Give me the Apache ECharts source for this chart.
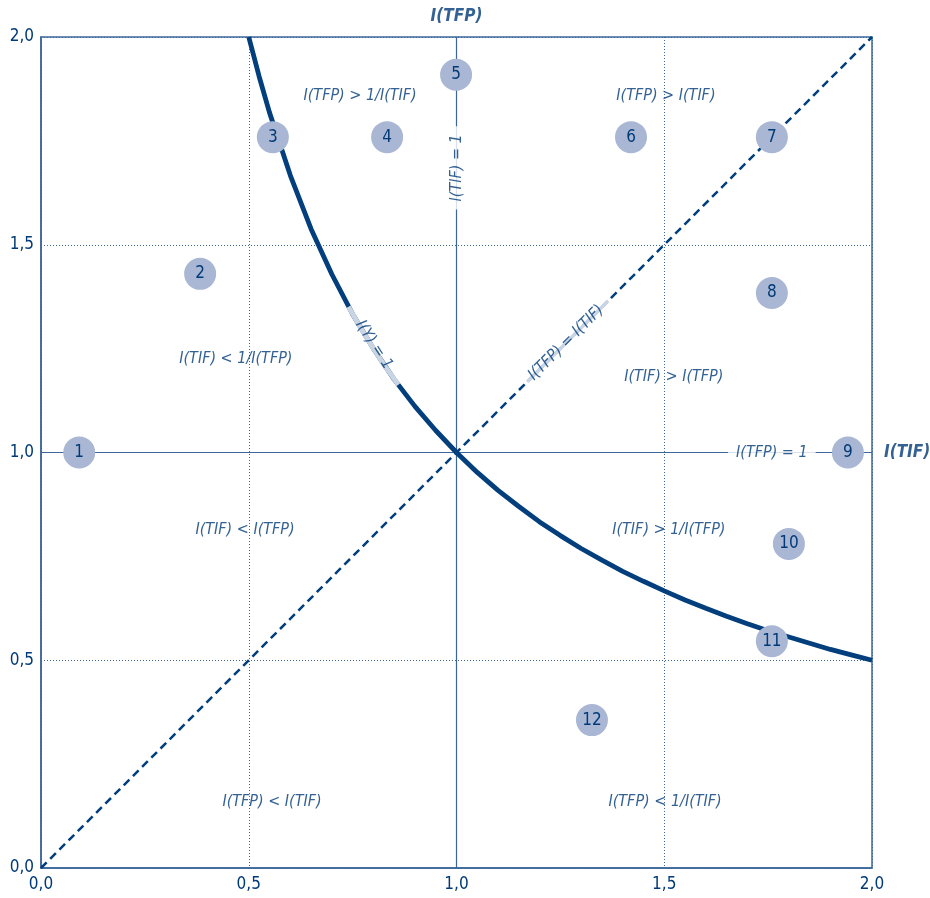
<!DOCTYPE html>
<html>
<head>
<meta charset="utf-8">
<script src="https://cdn.jsdelivr.net/npm/echarts@6/dist/echarts.min.js"></script>
<style>
html,body{margin:0;padding:0;background:#fff;}
#chart{width:930px;height:898px;}
</style>
</head>
<body>
<div id="chart"></div>
<script>
// ---- data ----
var axisTicks = [0, 0.5, 1.0, 1.5, 2.0];
// curve I(Y) = 1  (I(TFP) against I(TIF))
var curveX = [0.5, 0.525, 0.55, 0.6, 0.65, 0.7, 0.75, 0.8, 0.85, 0.9, 0.95, 1.0, 1.05, 1.1, 1.15, 1.2, 1.25, 1.3, 1.35, 1.4, 1.45, 1.5, 1.55, 1.6, 1.65, 1.7, 1.75, 1.8, 1.85, 1.9, 1.95, 2.0];
var curveY = [2.0, 1.905, 1.818, 1.667, 1.538, 1.429, 1.333, 1.25, 1.176, 1.111, 1.053, 1.0, 0.952, 0.909, 0.870, 0.833, 0.8, 0.769, 0.741, 0.714, 0.690, 0.667, 0.645, 0.625, 0.606, 0.588, 0.571, 0.556, 0.541, 0.526, 0.513, 0.5];
// light part of the curve behind its label
var curveGapX = [0.74, 0.77, 0.8, 0.83, 0.86];
var curveGapY = [1.351, 1.299, 1.25, 1.205, 1.163];
// diagonal I(TFP) = I(TIF)
var diagX = [0, 2];
var diagY = [0, 2];
var diagGapX = [1.17, 1.365];
var diagGapY = [1.17, 1.365];
// numbered points
var pointIds = ['1','2','3','4','5','6','7','8','9','10','11','12'];
var pointX = [0.092, 0.383, 0.558, 0.833, 0.999, 1.42, 1.759, 1.759, 1.942, 1.80, 1.759, 1.326];
var pointY = [1.0, 1.43, 1.759, 1.759, 1.909, 1.759, 1.759, 1.384, 1.0, 0.78, 0.546, 0.356];
// region texts
var regionTexts = ['I(TFP) > 1/I(TIF)', 'I(TFP) > I(TIF)', 'I(TIF) < 1/I(TFP)', 'I(TIF) > I(TFP)',
                   'I(TIF) < I(TFP)', 'I(TIF) > 1/I(TFP)', 'I(TFP) < I(TIF)', 'I(TFP) < 1/I(TIF)'];
var regionX = [0.768, 1.504, 0.469, 1.523, 0.491, 1.511, 0.556, 1.502];
var regionY = [1.858, 1.858, 1.225, 1.182, 0.813, 0.813, 0.159, 0.159];
// line labels
var lineLabelTexts = ['I(TIF) = 1', 'I(TFP) = 1', 'I(TFP) = I(TIF)', 'I(Y) = 1'];
var lineLabelX = [1.0, 1.759, 1.264, 0.801];
var lineLabelY = [1.685, 1.0, 1.264, 1.259];
var lineLabelRot = [90, 0, 45, -57];
// axis titles
var axisTitleY = 'I(TFP)';
var axisTitleX = 'I(TIF)';

var FONT = "'DejaVu Sans Condensed', 'Liberation Sans Narrow', 'Open Sans', sans-serif";
var DARK = '#023f7c';
var MID = '#3b679a';
var TXT = '#003a78';

function zip(xs, ys){ return xs.map(function(x,i){ return [x, ys[i]]; }); }
function fmt(v){ return v.toFixed(1).replace('.', ','); }

var chart = echarts.init(document.getElementById('chart'));

var lineLabelData = lineLabelTexts.map(function(t,i){
  var straight = (i < 2);
  return {
    value: [lineLabelX[i], lineLabelY[i]],
    label: {
      show: true, position: 'inside', formatter: t, rotate: lineLabelRot[i],
      backgroundColor: straight ? '#ffffff' : 'transparent',
      padding: straight ? [0, 8] : 0
    }
  };
});

var option = {
  animation: false,
  grid: { left: 41, right: 58, top: 37, bottom: 30, show: true, borderColor: MID, borderWidth: 1.5, backgroundColor: 'transparent' },
  xAxis: {
    type: 'value', min: 0, max: 2, interval: 0.5,
    axisLine: { show: true, lineStyle: { color: MID, width: 1.5 } },
    axisTick: { show: false },
    axisLabel: { color: TXT, fontSize: 17, fontFamily: FONT, margin: 8, formatter: fmt },
    splitLine: { show: true, lineStyle: { color: MID, width: 1, type: [1, 2] } }
  },
  yAxis: {
    type: 'value', min: 0, max: 2, interval: 0.5,
    axisLine: { show: true, lineStyle: { color: MID, width: 1.5 } },
    axisTick: { show: false },
    axisLabel: { color: TXT, fontSize: 17, fontFamily: FONT, margin: 7, formatter: fmt },
    splitLine: { show: true, lineStyle: { color: MID, width: 1, type: [1, 2] } }
  },
  series: [
    { type: 'line', data: [[1,0],[1,2]], symbol: 'none', lineStyle: { color: MID, width: 1.2 }, z: 2 },
    { type: 'line', data: [[0,1],[2,1]], symbol: 'none', lineStyle: { color: MID, width: 1.2 }, z: 2 },
    { type: 'line', data: zip(diagX, diagY), symbol: 'none', lineStyle: { color: DARK, width: 2.5, type: [8, 5] }, z: 3 },
    { type: 'line', data: zip(diagGapX, diagGapY), symbol: 'none', lineStyle: { color: '#c9d5e3', width: 3.5 }, z: 4 },
    { type: 'line', data: zip(curveX, curveY), symbol: 'none', smooth: false, lineStyle: { color: DARK, width: 4.8 }, z: 5 },
    { type: 'line', data: zip(curveGapX, curveGapY), symbol: 'none', smooth: false, lineStyle: { color: '#c9d5e3', width: 4.9 }, z: 6 },
    {
      type: 'scatter', z: 8, symbolSize: 0, clip: false,
      label: { show: true, color: TXT, fontSize: 16, fontStyle: 'italic', fontFamily: FONT },
      data: regionTexts.map(function(t,i){ return { value: [regionX[i], regionY[i]], label: { position: 'inside', formatter: t } }; })
    },
    {
      type: 'scatter', z: 8, symbolSize: 0, clip: false,
      label: { show: true, color: TXT, fontSize: 16, fontStyle: 'italic', fontFamily: FONT },
      data: lineLabelData
    },
    {
      type: 'scatter', z: 10, symbolSize: 32, clip: false,
      itemStyle: { color: '#a9b7d4', opacity: 1 },
      label: { show: true, position: 'inside', color: TXT, fontSize: 17, fontFamily: FONT,
               formatter: function(p){ return pointIds[p.dataIndex]; } },
      data: zip(pointX, pointY)
    },
    {
      type: 'scatter', z: 8, symbolSize: 0, clip: false,
      label: { show: true, color: TXT, fontSize: 17, fontStyle: 'italic', fontWeight: 'bold', fontFamily: FONT },
      data: [
        { value: [1, 2], label: { position: 'top', distance: 12, formatter: axisTitleY } },
        { value: [2, 1], label: { position: 'right', distance: 12, formatter: axisTitleX } }
      ]
    }
  ]
};
chart.setOption(option);
</script>
</body>
</html>
